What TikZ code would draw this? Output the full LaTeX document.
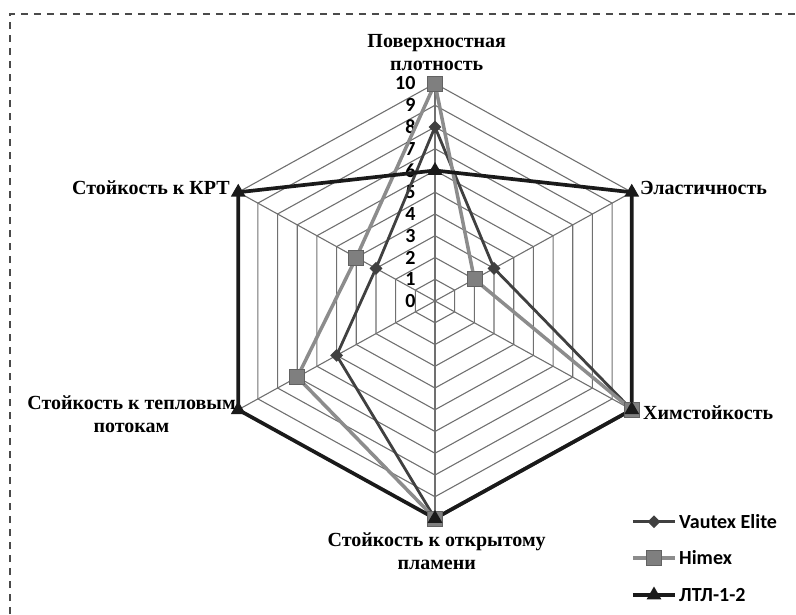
\documentclass[tikz,border=0pt]{standalone}
\usepackage{fontspec}
\setmainfont{Liberation Serif}
\newfontfamily\legfont{Carlito}
\usetikzlibrary{shapes.geometric,positioning,calc}

\definecolor{vautexc}{HTML}{404040}
\definecolor{himexc}{HTML}{8C8C8C}
\definecolor{himexf}{HTML}{7F7F7F}
\definecolor{ltlc}{HTML}{1A1A1A}
\definecolor{gridc}{HTML}{707070}
\definecolor{framec}{HTML}{4A4A4A}

\begin{document}
\begin{tikzpicture}[x=1pt,y=1pt,
    gridline/.style={draw=gridc, line width=1.1pt},
    frame/.style={draw=framec, line width=1.3pt, dash pattern=on 7pt off 6pt},
    axlbl/.style={font=\legfont\bfseries\fontsize{20}{20}\selectfont, anchor=east, inner sep=0pt},
    catlbl/.style={font=\bfseries\fontsize{20}{23}\selectfont, align=center, inner sep=0pt},
    leglbl/.style={font=\legfont\bfseries\fontsize{20}{20}\selectfont, anchor=west, inner sep=0pt},
    vaLine/.style={draw=vautexc, line width=2.8pt, line join=round},
    hiLine/.style={draw=himexc, line width=3.5pt, line join=round},
    ltLine/.style={draw=ltlc, line width=3.7pt, line join=round},
    vaMark/.style={diamond, fill=vautexc, minimum size=13pt, inner sep=0pt},
    hiMark/.style={rectangle, fill=himexf, draw=himexc!70!black, line width=0.6pt, minimum size=15pt, inner sep=0pt},
    ltMark/.style={regular polygon, regular polygon sides=3, fill=ltlc, minimum size=17pt, inner sep=0pt}
]
    \useasboundingbox (-435,-313) rectangle (361,301);

    % Frame
    \draw[frame] (-425,-313) -- (-425,287) -- (361,287);

    % Radar grid
    \begin{scope}[x=22.72pt, y=21.75pt]
        \foreach \r in {1,...,10}
            \draw[gridline] (90:\r) -- (30:\r) -- (-30:\r) -- (-90:\r) -- (-150:\r) -- (150:\r) -- cycle;
        \foreach \a in {90,30,...,-210}
            \draw[gridline] (0,0) -- (\a:10);

        % Data points
        \foreach \v [count=\i] in {8,3,10,10,5,3}
            \coordinate (va\i) at ({90-60*(\i-1)}:\v);
        \foreach \v [count=\i] in {10,2,10,10,7,4}
            \coordinate (hi\i) at ({90-60*(\i-1)}:\v);
        \foreach \v [count=\i] in {6,10,10,10,10,10}
            \coordinate (lt\i) at ({90-60*(\i-1)}:\v);

        % Axis values
        \foreach \v in {0,...,10}
            \node[axlbl] (tk\v) at (-0.85,\v) {\v};
    \end{scope}

    % Series
    \draw[vaLine] (va1) -- (va2) -- (va3) -- (va4) -- (va5) -- (va6) -- cycle;
    \draw[hiLine] (hi1) -- (hi2) -- (hi3) -- (hi4) -- (hi5) -- (hi6) -- cycle;
    \draw[ltLine] (lt1) -- (lt2) -- (lt3) -- (lt4) -- (lt5) -- (lt6) -- cycle;
    \foreach \i in {1,...,6} \node[vaMark] (vam\i) at (va\i) {};
    \foreach \i in {1,...,6} \node[hiMark] (him\i) at (hi\i) {};
    \foreach \i in {1,...,6} \node[ltMark] (ltm\i) at (lt\i) {};

    % Categories
    \node[catlbl] (density) at (1.7,248) {Поверхностная\\плотность};
    \node[catlbl, anchor=west] (elastic) at (205,113) {Эластичность};
    \node[catlbl, anchor=west] (chem) at (208,-112) {Химстойкость};
    \node[catlbl] (flame) at (1.7,-250.5) {Стойкость к открытому\\пламени};
    \node[catlbl] (heat) at (-303.5,-113) {Стойкость к тепловым\\потокам};
    \node[catlbl, anchor=east] (krt) at (-205,113) {Стойкость к КРТ};

    % Legend
    \coordinate (lga) at (198,-220.7);
    \coordinate (lgb) at (198,-257);
    \coordinate (lgc) at (198,-294);
    \draw[vaLine] (lga) -- ++(42,0) coordinate (lga2);
    \draw[hiLine] (lgb) -- ++(42,0) coordinate (lgb2);
    \draw[ltLine] (lgc) -- ++(42,0) coordinate (lgc2);
    \node[vaMark] (lgam) at ($(lga)!0.5!(lga2)$) {};
    \node[hiMark] (lgbm) at ($(lgb)!0.5!(lgb2)$) {};
    \node[ltMark] (lgcm) at ($(lgc)!0.5!(lgc2)$) {};
    \node[leglbl] (lgat) at (244,-220.7) {Vautex Elite};
    \node[leglbl] (lgbt) at (244,-257) {Himex};
    \node[leglbl] (lgct) at (244,-294) {ЛТЛ-1-2};
\end{tikzpicture}
\end{document}
